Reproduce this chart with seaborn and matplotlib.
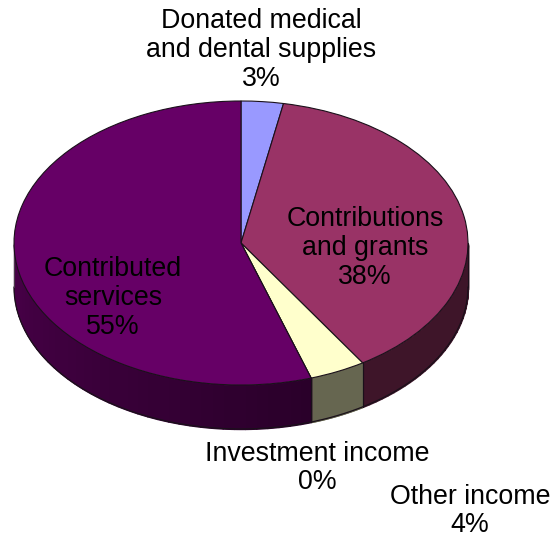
import numpy as np
import matplotlib
matplotlib.use("Agg")
import matplotlib.pyplot as plt
import seaborn as sns

sns.set_theme(style="white")
plt.rcParams["font.family"] = ["Liberation Sans", "DejaVu Sans"]

# Revenue sources, clockwise from twelve o'clock
names = ["Donated medical\nand dental supplies", "Contributions\nand grants",
         "Other income", "Investment income", "Contributed\nservices"]
shares = [3, 38, 4, 0, 55]
top_colors = ["#9999FF", "#993366", "#FFFFCC", "#CCFFFF", "#660066"]
side_starts = ["#3D3D66", "#3E1529", "#666650", "#506666", "#2A002A"]
side_ends = ["#3D3D66", "#3E1529", "#666650", "#506666", "#620062"]

W, H = 555, 544
CX, CY, RX, RY, DEPTH = 241, 243, 227, 142, 44


def to_x(px):
    return (px - CX) / RX


def to_y(py):
    return (CY - py) / RY


fig = plt.figure(figsize=(W / 100, H / 100), dpi=100, facecolor="white")
ax = fig.add_axes([0, 0, 1, 1])

# Flat top of the disc, stretched into an ellipse by the axes limits
wedges, _ = ax.pie(shares, colors=top_colors, startangle=90, counterclock=False,
                   radius=1, wedgeprops={"edgecolor": "#1a101a", "linewidth": 0.8,
                                         "zorder": 3},
                   normalize=True)
ax.set_aspect("auto")
ax.set_xlim(to_x(0), to_x(W))
ax.set_ylim(to_y(H), to_y(0))
ax.set_axis_off()

# Rim of the disc: only the lower half of the ellipse faces the viewer
depth = DEPTH / RY
edges = 90 - np.cumsum([0] + shares) / sum(shares) * 360
for lo, hi, c0, c1 in zip(edges[1:], edges[:-1], side_starts, side_ends):
    a0, a1 = max(lo, -360), hi
    if a1 - a0 < 1e-6:
        continue
    n = 70
    ramp = sns.blend_palette([c0, c1], n)
    grid = np.linspace(a1, a0, n + 1)
    for k in range(n):
        seg = np.radians(np.linspace(grid[k], grid[k + 1], 5))
        y = np.sin(seg)
        x = np.cos(seg)
        mask = y <= 0
        if mask.sum() < 2:
            continue
        ax.fill_between(x[mask], y[mask], y[mask] - depth, color=ramp[k],
                        linewidth=1.0, antialiased=False, zorder=1)
    # Joints between neighbouring slices
    for ang in (a0, a1):
        r = np.radians(ang)
        if np.sin(r) < 0:
            ax.plot([np.cos(r)] * 2, [np.sin(r), np.sin(r) - depth],
                    color="#1a101a", lw=0.8, zorder=2)

# Outline of the lower rim
t = np.radians(np.linspace(180, 360, 361))
ax.plot(np.cos(t), np.sin(t) - depth, color="#1a101a", lw=0.9, zorder=2)
ax.plot([-1, -1], [0, -depth], color="#4a3a4a", lw=0.8, zorder=2)
ax.plot([1, 1], [0, -depth], color="#1a101a", lw=0.8, zorder=2)

# Slice captions with their shares
centres = [(261, 50), (365, 248), (317, 468), (113, 298), (470, 511)]
order = [0, 1, 3, 4, 2]
for (px, py), i in zip(centres, order):
    ax.text(to_x(px), to_y(py), f"{names[i]}\n{shares[i]}%", ha="center", va="center",
            fontsize=19.3, color="black", linespacing=1.14, zorder=5)

fig.savefig("out.png", dpi=100, facecolor="white")
